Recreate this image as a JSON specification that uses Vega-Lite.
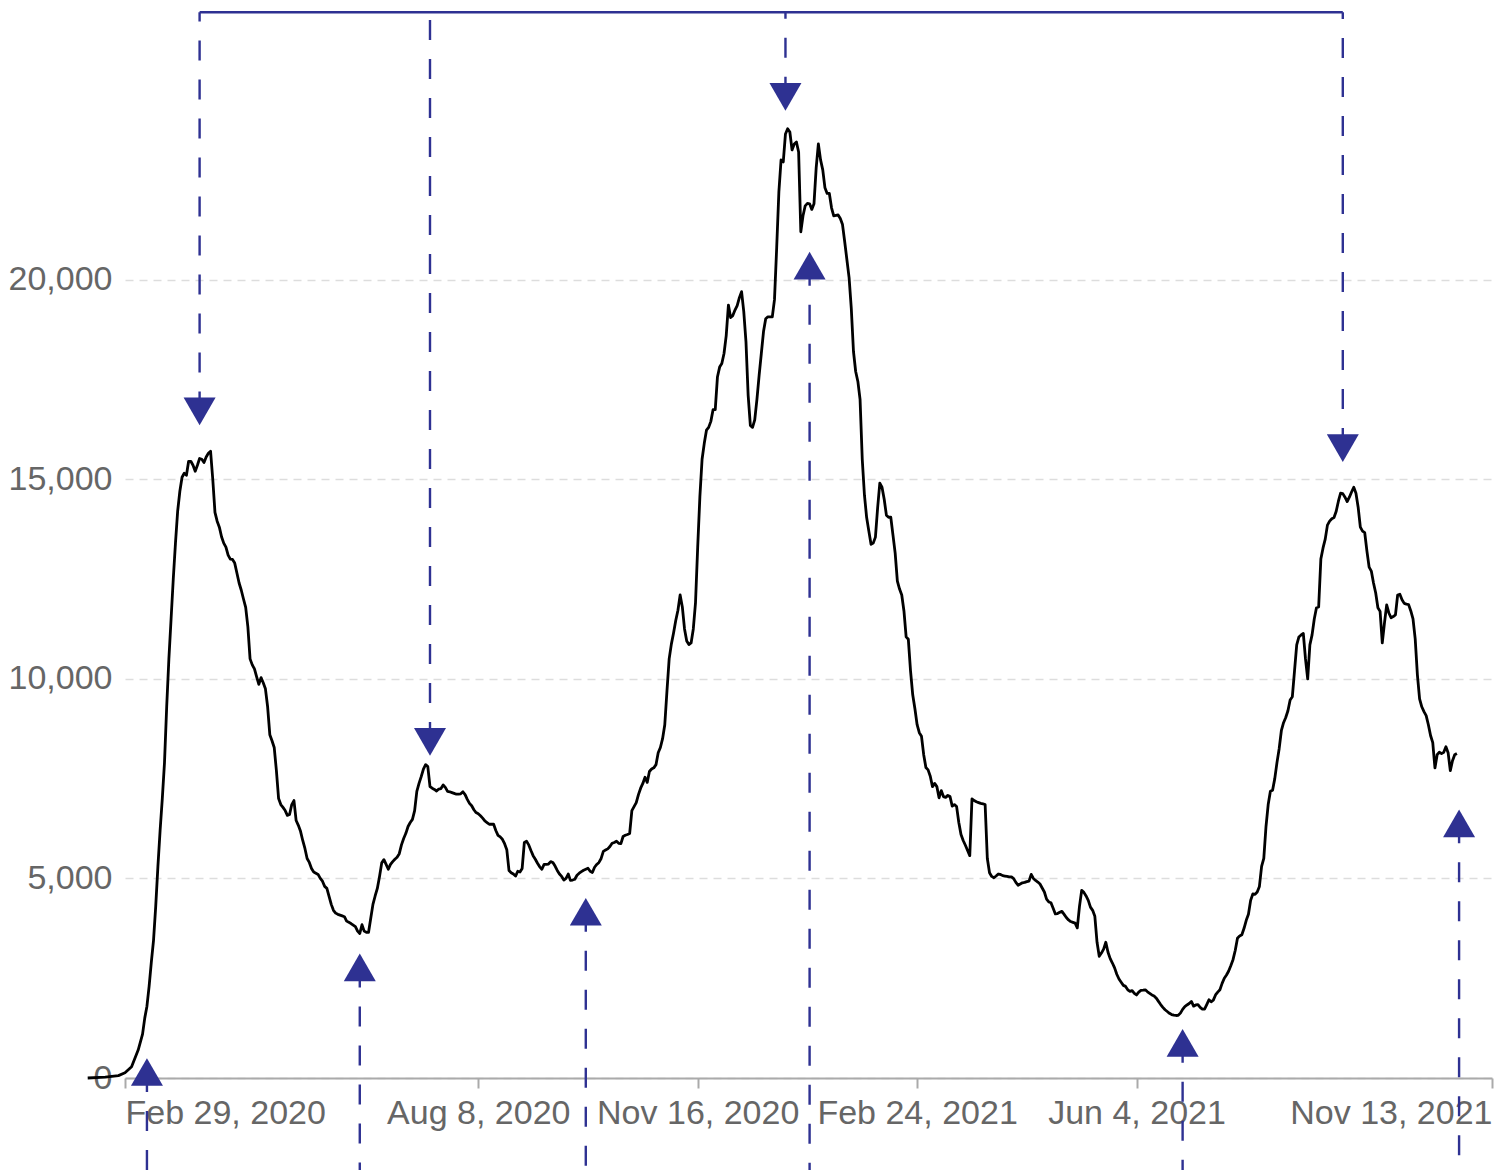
{
  "$schema": "https://vega.github.io/schema/vega-lite/v6.json",
  "autosize": {"type": "none"},
  "padding": {"left": 125, "top": 120, "right": 12, "bottom": 92},
  "width": 1367,
  "height": 958,
  "background": "white",
  "config": {
    "view": {"stroke": null},
    "font": "Liberation Sans",
    "axis": {"labelFont": "Liberation Sans", "labelFontSize": 34, "labelColor": "#666666", "labelLimit": 0}
  },
  "datasets": {
    "series": [
      {"date":"2020-02-12","value":0},{"date":"2020-02-20","value":20},{"date":"2020-02-26","value":60},{"date":"2020-02-29","value":130},
      {"date":"2020-03-03","value":280},{"date":"2020-03-06","value":700},{"date":"2020-03-08","value":1100},{"date":"2020-03-09","value":1500},{"date":"2020-03-10","value":1800},{"date":"2020-03-11","value":2300},{"date":"2020-03-12","value":2900},{"date":"2020-03-13","value":3450},{"date":"2020-03-14","value":4300},{"date":"2020-03-15","value":5300},{"date":"2020-03-16","value":6200},{"date":"2020-03-17","value":7000},{"date":"2020-03-18","value":7900},{"date":"2020-03-19","value":9300},{"date":"2020-03-20","value":10500},{"date":"2020-03-21","value":11500},{"date":"2020-03-22","value":12500},{"date":"2020-03-23","value":13400},{"date":"2020-03-24","value":14200},{"date":"2020-03-25","value":14700},{"date":"2020-03-26","value":15050},{"date":"2020-03-27","value":15150},{"date":"2020-03-28","value":15100},{"date":"2020-03-29","value":15450},{"date":"2020-03-30","value":15450},{"date":"2020-03-31","value":15350},
      {"date":"2020-04-01","value":15200},{"date":"2020-04-02","value":15350},{"date":"2020-04-03","value":15520},{"date":"2020-04-04","value":15500},{"date":"2020-04-05","value":15420},{"date":"2020-04-06","value":15560},{"date":"2020-04-07","value":15650},{"date":"2020-04-08","value":15700},{"date":"2020-04-09","value":15000},{"date":"2020-04-10","value":14172},{"date":"2020-04-11","value":13950},{"date":"2020-04-12","value":13800},{"date":"2020-04-13","value":13560},{"date":"2020-04-14","value":13400},{"date":"2020-04-15","value":13300},{"date":"2020-04-16","value":13100},{"date":"2020-04-17","value":13000},{"date":"2020-04-18","value":12990},{"date":"2020-04-19","value":12900},{"date":"2020-04-20","value":12650},{"date":"2020-04-21","value":12400},{"date":"2020-04-22","value":12220},{"date":"2020-04-23","value":12000},{"date":"2020-04-24","value":11790},{"date":"2020-04-25","value":11300},{"date":"2020-04-26","value":10500},{"date":"2020-04-27","value":10350},{"date":"2020-04-28","value":10250},{"date":"2020-04-29","value":10050},{"date":"2020-04-30","value":9860},
      {"date":"2020-05-01","value":10030},{"date":"2020-05-02","value":9900},{"date":"2020-05-03","value":9750},{"date":"2020-05-04","value":9300},{"date":"2020-05-05","value":8600},{"date":"2020-05-06","value":8450},{"date":"2020-05-07","value":8280},{"date":"2020-05-08","value":7700},{"date":"2020-05-09","value":7000},{"date":"2020-05-10","value":6850},{"date":"2020-05-11","value":6780},{"date":"2020-05-12","value":6700},{"date":"2020-05-13","value":6580},{"date":"2020-05-14","value":6600},{"date":"2020-05-15","value":6850},{"date":"2020-05-16","value":6950},{"date":"2020-05-17","value":6450},{"date":"2020-05-18","value":6330},{"date":"2020-05-19","value":6180},{"date":"2020-05-20","value":5950},{"date":"2020-05-21","value":5750},{"date":"2020-05-22","value":5500},{"date":"2020-05-23","value":5400},{"date":"2020-05-24","value":5250},{"date":"2020-05-25","value":5160},{"date":"2020-05-26","value":5130},{"date":"2020-05-27","value":5100},{"date":"2020-05-28","value":5000},{"date":"2020-05-29","value":4930},{"date":"2020-05-30","value":4800},{"date":"2020-05-31","value":4750},
      {"date":"2020-06-01","value":4550},{"date":"2020-06-02","value":4350},{"date":"2020-06-03","value":4200},{"date":"2020-06-04","value":4130},{"date":"2020-06-05","value":4100},{"date":"2020-06-06","value":4080},{"date":"2020-06-07","value":4060},{"date":"2020-06-08","value":4040},{"date":"2020-06-09","value":3930},{"date":"2020-06-10","value":3900},{"date":"2020-06-11","value":3870},{"date":"2020-06-12","value":3830},{"date":"2020-06-13","value":3790},{"date":"2020-06-14","value":3680},{"date":"2020-06-15","value":3620},{"date":"2020-06-16","value":3840},{"date":"2020-06-17","value":3680},{"date":"2020-06-18","value":3650},{"date":"2020-06-19","value":3650},{"date":"2020-06-20","value":4000},{"date":"2020-06-21","value":4350},{"date":"2020-06-22","value":4560},{"date":"2020-06-23","value":4750},{"date":"2020-06-24","value":5050},{"date":"2020-06-25","value":5390},{"date":"2020-06-26","value":5470},{"date":"2020-06-27","value":5350},{"date":"2020-06-28","value":5230},{"date":"2020-06-29","value":5350},{"date":"2020-06-30","value":5420},
      {"date":"2020-07-01","value":5480},{"date":"2020-07-02","value":5530},{"date":"2020-07-03","value":5620},{"date":"2020-07-04","value":5840},{"date":"2020-07-05","value":6000},{"date":"2020-07-06","value":6130},{"date":"2020-07-07","value":6300},{"date":"2020-07-08","value":6400},{"date":"2020-07-09","value":6480},{"date":"2020-07-10","value":6700},{"date":"2020-07-11","value":7180},{"date":"2020-07-12","value":7380},{"date":"2020-07-13","value":7550},{"date":"2020-07-14","value":7740},{"date":"2020-07-15","value":7850},{"date":"2020-07-16","value":7800},{"date":"2020-07-17","value":7300},{"date":"2020-07-18","value":7260},{"date":"2020-07-19","value":7230},{"date":"2020-07-20","value":7190},{"date":"2020-07-21","value":7240},{"date":"2020-07-22","value":7250},{"date":"2020-07-23","value":7340},{"date":"2020-07-24","value":7280},{"date":"2020-07-25","value":7180},{"date":"2020-07-26","value":7170},{"date":"2020-07-27","value":7150},{"date":"2020-07-28","value":7130},{"date":"2020-07-29","value":7110},{"date":"2020-07-30","value":7110},{"date":"2020-07-31","value":7120},
      {"date":"2020-08-01","value":7170},{"date":"2020-08-02","value":7100},{"date":"2020-08-03","value":6980},{"date":"2020-08-04","value":6880},{"date":"2020-08-05","value":6820},{"date":"2020-08-06","value":6720},{"date":"2020-08-07","value":6650},{"date":"2020-08-08","value":6620},{"date":"2020-08-09","value":6570},{"date":"2020-08-10","value":6510},{"date":"2020-08-11","value":6440},{"date":"2020-08-12","value":6400},{"date":"2020-08-13","value":6357},{"date":"2020-08-14","value":6357},{"date":"2020-08-15","value":6357},{"date":"2020-08-16","value":6200},{"date":"2020-08-17","value":6080},{"date":"2020-08-18","value":6040},{"date":"2020-08-19","value":5980},{"date":"2020-08-20","value":5870},{"date":"2020-08-21","value":5720},{"date":"2020-08-22","value":5200},{"date":"2020-08-23","value":5143},{"date":"2020-08-24","value":5110},{"date":"2020-08-25","value":5059},{"date":"2020-08-26","value":5180},{"date":"2020-08-27","value":5160},{"date":"2020-08-28","value":5250},{"date":"2020-08-29","value":5900},{"date":"2020-08-30","value":5930},{"date":"2020-08-31","value":5840},
      {"date":"2020-09-01","value":5700},{"date":"2020-09-02","value":5570},{"date":"2020-09-03","value":5480},{"date":"2020-09-04","value":5380},{"date":"2020-09-05","value":5290},{"date":"2020-09-06","value":5230},{"date":"2020-09-07","value":5350},{"date":"2020-09-08","value":5350},{"date":"2020-09-09","value":5360},{"date":"2020-09-10","value":5420},{"date":"2020-09-11","value":5400},{"date":"2020-09-12","value":5310},{"date":"2020-09-13","value":5200},{"date":"2020-09-14","value":5110},{"date":"2020-09-15","value":5050},{"date":"2020-09-16","value":4960},{"date":"2020-09-17","value":5000},{"date":"2020-09-18","value":5110},{"date":"2020-09-19","value":4950},{"date":"2020-09-20","value":4960},{"date":"2020-09-21","value":4980},{"date":"2020-09-22","value":5080},{"date":"2020-09-23","value":5130},{"date":"2020-09-24","value":5170},{"date":"2020-09-25","value":5205},{"date":"2020-09-26","value":5230},{"date":"2020-09-27","value":5256},{"date":"2020-09-28","value":5180},{"date":"2020-09-29","value":5150},{"date":"2020-09-30","value":5280},
      {"date":"2020-10-01","value":5350},{"date":"2020-10-02","value":5400},{"date":"2020-10-03","value":5500},{"date":"2020-10-04","value":5678},{"date":"2020-10-05","value":5710},{"date":"2020-10-06","value":5740},{"date":"2020-10-07","value":5800},{"date":"2020-10-08","value":5880},{"date":"2020-10-09","value":5900},{"date":"2020-10-10","value":5934},{"date":"2020-10-11","value":5880},{"date":"2020-10-12","value":5870},{"date":"2020-10-13","value":6050},{"date":"2020-10-14","value":6080},{"date":"2020-10-15","value":6100},{"date":"2020-10-16","value":6126},{"date":"2020-10-17","value":6700},{"date":"2020-10-18","value":6800},{"date":"2020-10-19","value":6900},{"date":"2020-10-20","value":7100},{"date":"2020-10-21","value":7260},{"date":"2020-10-22","value":7380},{"date":"2020-10-23","value":7533},{"date":"2020-10-24","value":7405},{"date":"2020-10-25","value":7680},{"date":"2020-10-26","value":7740},{"date":"2020-10-27","value":7770},{"date":"2020-10-28","value":7850},{"date":"2020-10-29","value":8150},{"date":"2020-10-30","value":8280},{"date":"2020-10-31","value":8500},
      {"date":"2020-11-01","value":8850},{"date":"2020-11-02","value":9700},{"date":"2020-11-03","value":10500},{"date":"2020-11-04","value":10870},{"date":"2020-11-05","value":11150},{"date":"2020-11-06","value":11460},{"date":"2020-11-07","value":11720},{"date":"2020-11-08","value":12100},{"date":"2020-11-09","value":11800},{"date":"2020-11-10","value":11250},{"date":"2020-11-11","value":10950},{"date":"2020-11-12","value":10860},{"date":"2020-11-13","value":10900},{"date":"2020-11-14","value":11250},{"date":"2020-11-15","value":11900},{"date":"2020-11-16","value":13300},{"date":"2020-11-17","value":14566},{"date":"2020-11-18","value":15500},{"date":"2020-11-19","value":15900},{"date":"2020-11-20","value":16230},{"date":"2020-11-21","value":16300},{"date":"2020-11-22","value":16450},{"date":"2020-11-23","value":16742},{"date":"2020-11-24","value":16742},{"date":"2020-11-25","value":17560},{"date":"2020-11-26","value":17810},{"date":"2020-11-27","value":17900},{"date":"2020-11-28","value":18150},{"date":"2020-11-29","value":18600},{"date":"2020-11-30","value":19363},
      {"date":"2020-12-01","value":19050},{"date":"2020-12-02","value":19100},{"date":"2020-12-03","value":19240},{"date":"2020-12-04","value":19350},{"date":"2020-12-05","value":19550},{"date":"2020-12-06","value":19700},{"date":"2020-12-07","value":19200},{"date":"2020-12-08","value":18450},{"date":"2020-12-09","value":17100},{"date":"2020-12-10","value":16350},{"date":"2020-12-11","value":16300},{"date":"2020-12-12","value":16486},{"date":"2020-12-13","value":17000},{"date":"2020-12-14","value":17600},{"date":"2020-12-15","value":18150},{"date":"2020-12-16","value":18700},{"date":"2020-12-17","value":19020},{"date":"2020-12-18","value":19069},{"date":"2020-12-19","value":19069},{"date":"2020-12-20","value":19069},{"date":"2020-12-21","value":19500},{"date":"2020-12-22","value":20800},{"date":"2020-12-23","value":22200},{"date":"2020-12-24","value":23000},{"date":"2020-12-25","value":22950},{"date":"2020-12-26","value":23650},{"date":"2020-12-27","value":23780},{"date":"2020-12-28","value":23700},{"date":"2020-12-29","value":23250},{"date":"2020-12-30","value":23400},{"date":"2020-12-31","value":23450},
      {"date":"2021-01-01","value":23200},{"date":"2021-01-02","value":21200},{"date":"2021-01-03","value":21600},{"date":"2021-01-04","value":21850},{"date":"2021-01-05","value":21910},{"date":"2021-01-06","value":21900},{"date":"2021-01-07","value":21760},{"date":"2021-01-08","value":21900},{"date":"2021-01-09","value":22800},{"date":"2021-01-10","value":23400},{"date":"2021-01-11","value":23000},{"date":"2021-01-12","value":22750},{"date":"2021-01-13","value":22300},{"date":"2021-01-14","value":22160},{"date":"2021-01-15","value":22160},{"date":"2021-01-16","value":21800},{"date":"2021-01-17","value":21600},{"date":"2021-01-18","value":21610},{"date":"2021-01-19","value":21620},{"date":"2021-01-20","value":21530},{"date":"2021-01-21","value":21380},{"date":"2021-01-22","value":20950},{"date":"2021-01-23","value":20500},{"date":"2021-01-24","value":20050},{"date":"2021-01-25","value":19280},{"date":"2021-01-26","value":18200},{"date":"2021-01-27","value":17700},{"date":"2021-01-28","value":17450},{"date":"2021-01-29","value":17000},{"date":"2021-01-30","value":15500},{"date":"2021-01-31","value":14600},
      {"date":"2021-02-01","value":14040},{"date":"2021-02-02","value":13700},{"date":"2021-02-03","value":13370},{"date":"2021-02-04","value":13400},{"date":"2021-02-05","value":13550},{"date":"2021-02-06","value":14280},{"date":"2021-02-07","value":14900},{"date":"2021-02-08","value":14800},{"date":"2021-02-09","value":14500},{"date":"2021-02-10","value":14100},{"date":"2021-02-11","value":14048},{"date":"2021-02-12","value":14048},{"date":"2021-02-13","value":13600},{"date":"2021-02-14","value":13150},{"date":"2021-02-15","value":12450},{"date":"2021-02-16","value":12250},{"date":"2021-02-17","value":12100},{"date":"2021-02-18","value":11700},{"date":"2021-02-19","value":11050},{"date":"2021-02-20","value":10990},{"date":"2021-02-21","value":10200},{"date":"2021-02-22","value":9600},{"date":"2021-02-23","value":9250},{"date":"2021-02-24","value":8850},{"date":"2021-02-25","value":8650},{"date":"2021-02-26","value":8560},{"date":"2021-02-27","value":8100},{"date":"2021-02-28","value":7780},
      {"date":"2021-03-01","value":7720},{"date":"2021-03-02","value":7560},{"date":"2021-03-03","value":7300},{"date":"2021-03-04","value":7380},{"date":"2021-03-05","value":7300},{"date":"2021-03-06","value":7020},{"date":"2021-03-07","value":7200},{"date":"2021-03-08","value":7050},{"date":"2021-03-09","value":7030},{"date":"2021-03-10","value":7080},{"date":"2021-03-11","value":7050},{"date":"2021-03-12","value":6810},{"date":"2021-03-13","value":6850},{"date":"2021-03-14","value":6800},{"date":"2021-03-15","value":6400},{"date":"2021-03-16","value":6100},{"date":"2021-03-17","value":5950},{"date":"2021-03-18","value":5830},{"date":"2021-03-19","value":5700},{"date":"2021-03-20","value":5570},{"date":"2021-03-21","value":6990},{"date":"2021-03-22","value":6950},{"date":"2021-03-23","value":6920},{"date":"2021-03-24","value":6900},{"date":"2021-03-25","value":6880},{"date":"2021-03-26","value":6870},{"date":"2021-03-27","value":6850},{"date":"2021-03-28","value":5500},{"date":"2021-03-29","value":5143},{"date":"2021-03-30","value":5050},{"date":"2021-03-31","value":5017},
      {"date":"2021-04-01","value":5060},{"date":"2021-04-02","value":5110},{"date":"2021-04-03","value":5100},{"date":"2021-04-04","value":5070},{"date":"2021-04-05","value":5060},{"date":"2021-04-06","value":5050},{"date":"2021-04-07","value":5040},{"date":"2021-04-08","value":5040},{"date":"2021-04-09","value":4995},{"date":"2021-04-10","value":4900},{"date":"2021-04-11","value":4830},{"date":"2021-04-12","value":4860},{"date":"2021-04-13","value":4891},{"date":"2021-04-14","value":4900},{"date":"2021-04-15","value":4920},{"date":"2021-04-16","value":4933},{"date":"2021-04-17","value":5100},{"date":"2021-04-18","value":5000},{"date":"2021-04-19","value":4950},{"date":"2021-04-20","value":4910},{"date":"2021-04-21","value":4860},{"date":"2021-04-22","value":4760},{"date":"2021-04-23","value":4660},{"date":"2021-04-24","value":4480},{"date":"2021-04-25","value":4410},{"date":"2021-04-26","value":4390},{"date":"2021-04-27","value":4250},{"date":"2021-04-28","value":4110},{"date":"2021-04-29","value":4120},{"date":"2021-04-30","value":4150},
      {"date":"2021-05-01","value":4175},{"date":"2021-05-02","value":4100},{"date":"2021-05-03","value":4020},{"date":"2021-05-04","value":3960},{"date":"2021-05-05","value":3920},{"date":"2021-05-06","value":3900},{"date":"2021-05-07","value":3880},{"date":"2021-05-08","value":3760},{"date":"2021-05-09","value":4300},{"date":"2021-05-10","value":4700},{"date":"2021-05-11","value":4650},{"date":"2021-05-12","value":4560},{"date":"2021-05-13","value":4450},{"date":"2021-05-14","value":4280},{"date":"2021-05-15","value":4200},{"date":"2021-05-16","value":4050},{"date":"2021-05-17","value":3400},{"date":"2021-05-18","value":3050},{"date":"2021-05-19","value":3130},{"date":"2021-05-20","value":3230},{"date":"2021-05-21","value":3400},{"date":"2021-05-22","value":3150},{"date":"2021-05-23","value":2990},{"date":"2021-05-24","value":2880},{"date":"2021-05-25","value":2760},{"date":"2021-05-26","value":2600},{"date":"2021-05-27","value":2480},{"date":"2021-05-28","value":2400},{"date":"2021-05-29","value":2320},{"date":"2021-05-30","value":2295},{"date":"2021-05-31","value":2210},
      {"date":"2021-06-01","value":2170},{"date":"2021-06-02","value":2190},{"date":"2021-06-03","value":2120},{"date":"2021-06-04","value":2080},{"date":"2021-06-05","value":2150},{"date":"2021-06-06","value":2194},{"date":"2021-06-07","value":2200},{"date":"2021-06-08","value":2210},{"date":"2021-06-09","value":2160},{"date":"2021-06-10","value":2120},{"date":"2021-06-11","value":2080},{"date":"2021-06-12","value":2055},{"date":"2021-06-13","value":2000},{"date":"2021-06-14","value":1920},{"date":"2021-06-15","value":1840},{"date":"2021-06-16","value":1770},{"date":"2021-06-17","value":1710},{"date":"2021-06-18","value":1666},{"date":"2021-06-19","value":1620},{"date":"2021-06-20","value":1590},{"date":"2021-06-21","value":1575},{"date":"2021-06-22","value":1566},{"date":"2021-06-23","value":1570},{"date":"2021-06-24","value":1625},{"date":"2021-06-25","value":1720},{"date":"2021-06-26","value":1790},{"date":"2021-06-27","value":1830},{"date":"2021-06-28","value":1865},{"date":"2021-06-29","value":1918},{"date":"2021-06-30","value":1800},
      {"date":"2021-07-01","value":1830},{"date":"2021-07-02","value":1840},{"date":"2021-07-03","value":1770},{"date":"2021-07-04","value":1726},{"date":"2021-07-05","value":1726},{"date":"2021-07-06","value":1840},{"date":"2021-07-07","value":1960},{"date":"2021-07-08","value":1910},{"date":"2021-07-09","value":1950},{"date":"2021-07-10","value":2080},{"date":"2021-07-11","value":2150},{"date":"2021-07-12","value":2211},{"date":"2021-07-13","value":2370},{"date":"2021-07-14","value":2500},{"date":"2021-07-15","value":2580},{"date":"2021-07-16","value":2680},{"date":"2021-07-17","value":2820},{"date":"2021-07-18","value":2970},{"date":"2021-07-19","value":3200},{"date":"2021-07-20","value":3500},{"date":"2021-07-21","value":3560},{"date":"2021-07-22","value":3590},{"date":"2021-07-23","value":3750},{"date":"2021-07-24","value":3950},{"date":"2021-07-25","value":4100},{"date":"2021-07-26","value":4450},{"date":"2021-07-27","value":4610},{"date":"2021-07-28","value":4600},{"date":"2021-07-29","value":4660},{"date":"2021-07-30","value":4800},{"date":"2021-07-31","value":5300},
      {"date":"2021-08-01","value":5500},{"date":"2021-08-02","value":6300},{"date":"2021-08-03","value":6850},{"date":"2021-08-04","value":7183},{"date":"2021-08-05","value":7210},{"date":"2021-08-06","value":7500},{"date":"2021-08-07","value":7900},{"date":"2021-08-08","value":8250},{"date":"2021-08-09","value":8700},{"date":"2021-08-10","value":8900},{"date":"2021-08-11","value":9030},{"date":"2021-08-12","value":9200},{"date":"2021-08-13","value":9470},{"date":"2021-08-14","value":9550},{"date":"2021-08-15","value":10200},{"date":"2021-08-16","value":10850},{"date":"2021-08-17","value":11050},{"date":"2021-08-18","value":11100},{"date":"2021-08-19","value":11137},{"date":"2021-08-20","value":10500},{"date":"2021-08-21","value":10000},{"date":"2021-08-22","value":10850},{"date":"2021-08-23","value":11100},{"date":"2021-08-24","value":11500},{"date":"2021-08-25","value":11780},{"date":"2021-08-26","value":11800},{"date":"2021-08-27","value":13000},{"date":"2021-08-28","value":13280},{"date":"2021-08-29","value":13500},{"date":"2021-08-30","value":13850},{"date":"2021-08-31","value":13950},
      {"date":"2021-09-01","value":14010},{"date":"2021-09-02","value":14040},{"date":"2021-09-03","value":14200},{"date":"2021-09-04","value":14450},{"date":"2021-09-05","value":14650},{"date":"2021-09-06","value":14640},{"date":"2021-09-07","value":14550},{"date":"2021-09-08","value":14440},{"date":"2021-09-09","value":14550},{"date":"2021-09-10","value":14680},{"date":"2021-09-11","value":14800},{"date":"2021-09-12","value":14650},{"date":"2021-09-13","value":14300},{"date":"2021-09-14","value":13800},{"date":"2021-09-15","value":13700},{"date":"2021-09-16","value":13660},{"date":"2021-09-17","value":13200},{"date":"2021-09-18","value":12800},{"date":"2021-09-19","value":12700},{"date":"2021-09-20","value":12400},{"date":"2021-09-21","value":12150},{"date":"2021-09-22","value":11780},{"date":"2021-09-23","value":11690},{"date":"2021-09-24","value":10900},{"date":"2021-09-25","value":11400},{"date":"2021-09-26","value":11850},{"date":"2021-09-27","value":11650},{"date":"2021-09-28","value":11530},{"date":"2021-09-29","value":11560},{"date":"2021-09-30","value":11600},
      {"date":"2021-10-01","value":12100},{"date":"2021-10-02","value":12120},{"date":"2021-10-03","value":11980},{"date":"2021-10-04","value":11890},{"date":"2021-10-05","value":11870},{"date":"2021-10-06","value":11860},{"date":"2021-10-07","value":11700},{"date":"2021-10-08","value":11500},{"date":"2021-10-09","value":11000},{"date":"2021-10-10","value":10100},{"date":"2021-10-11","value":9500},{"date":"2021-10-12","value":9300},{"date":"2021-10-13","value":9180},{"date":"2021-10-14","value":9080},{"date":"2021-10-15","value":8850},{"date":"2021-10-16","value":8580},{"date":"2021-10-17","value":8400},{"date":"2021-10-18","value":7767},{"date":"2021-10-19","value":8100},{"date":"2021-10-20","value":8160},{"date":"2021-10-21","value":8127},{"date":"2021-10-22","value":8160},{"date":"2021-10-23","value":8300},{"date":"2021-10-24","value":8150},{"date":"2021-10-25","value":7700},{"date":"2021-10-26","value":7950},{"date":"2021-10-27","value":8100},{"date":"2021-10-28","value":8130}
    ],
    "markers": [
      {"date":"2020-03-10","value":150,"kind":"trough","lineEnd":-2500},
      {"date":"2020-04-03","value":16700,"kind":"peak","lineEnd":26700},
      {"date":"2020-06-15","value":2770,"kind":"trough","lineEnd":-2500},
      {"date":"2020-07-17","value":8420,"kind":"peak","lineEnd":26700},
      {"date":"2020-09-26","value":4165,"kind":"trough","lineEnd":-2500},
      {"date":"2020-12-26","value":24580,"kind":"peak","lineEnd":26700},
      {"date":"2021-01-06","value":20350,"kind":"trough","lineEnd":-2500},
      {"date":"2021-06-25","value":880,"kind":"trough","lineEnd":-2500},
      {"date":"2021-09-06","value":15780,"kind":"peak","lineEnd":26700},
      {"date":"2021-10-29","value":6380,"kind":"trough","lineEnd":-2500}
    ],
    "bracket": [
      {"start":"2020-04-03","end":"2021-09-06","level":26700}
    ]
  },
  "layer": [
    {
      "data": {"name": "series"},
      "mark": {"type": "line", "color": "black", "strokeWidth": 2.8, "strokeJoin": "round"},
      "encoding": {
        "x": {
          "field": "date",
          "type": "temporal",
          "scale": {
            "type": "utc",
            "domain": [
              {"year": 2020, "month": 2, "date": 29, "utc": true},
              {"year": 2021, "month": 11, "date": 13, "utc": true}
            ]
          },
          "axis": {
            "title": null,
            "format": "%b %-d, %Y",
            "values": [
              {"year": 2020, "month": 2, "date": 29, "utc": true},
              {"year": 2020, "month": 8, "date": 8, "utc": true},
              {"year": 2020, "month": 11, "date": 16, "utc": true},
              {"year": 2021, "month": 2, "date": 24, "utc": true},
              {"year": 2021, "month": 6, "date": 4, "utc": true},
              {"year": 2021, "month": 11, "date": 13, "utc": true}
            ],
            "grid": false,
            "domainColor": "#aaaaaa",
            "domainWidth": 2,
            "tickColor": "#aaaaaa",
            "tickWidth": 2,
            "tickSize": 10,
            "labelPadding": 8,
            "labelOverlap": false,
            "labelFlush": true
          }
        },
        "y": {
          "field": "value",
          "type": "quantitative",
          "scale": {"domain": [0, 24000], "nice": false, "zero": true},
          "axis": {
            "title": null,
            "values": [0, 5000, 10000, 15000, 20000],
            "format": ",d",
            "domain": false,
            "ticks": false,
            "tickSize": 0,
            "labelPadding": 13,
            "grid": true,
            "gridColor": "#dddddd",
            "gridDash": [8, 6],
            "gridWidth": 1.5
          }
        }
      }
    },
    {
      "data": {"name": "markers"},
      "mark": {"type": "rule", "color": "#2E3192", "strokeWidth": 2.4, "strokeDash": [20, 19]},
      "encoding": {
        "x": {"field": "date", "type": "temporal"},
        "y": {"field": "value", "type": "quantitative"},
        "y2": {"field": "lineEnd"}
      }
    },
    {
      "data": {"name": "bracket"},
      "mark": {"type": "rule", "color": "#2E3192", "strokeWidth": 2.4},
      "encoding": {
        "x": {"field": "start", "type": "temporal"},
        "x2": {"field": "end"},
        "y": {"field": "level", "type": "quantitative"}
      }
    },
    {
      "data": {"name": "markers"},
      "mark": {"type": "point", "filled": true, "size": 1024, "opacity": 1},
      "encoding": {
        "x": {"field": "date", "type": "temporal"},
        "y": {"field": "value", "type": "quantitative"},
        "shape": {"field": "kind", "type": "nominal", "scale": {"domain": ["peak", "trough"], "range": ["triangle-down", "triangle-up"]}, "legend": null},
        "color": {"value": "#2E3192"}
      }
    }
  ]
}
